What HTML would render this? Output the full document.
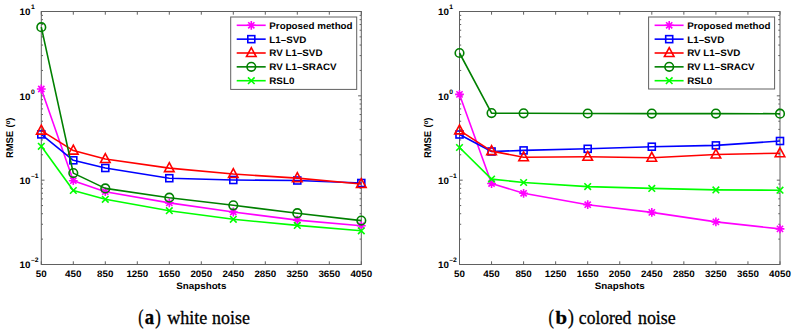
<!DOCTYPE html>
<html><head><meta charset="utf-8"><style>
html,body{margin:0;padding:0;background:#fff;}
body{width:797px;height:335px;overflow:hidden;}
svg{display:block;}
</style></head><body>
<svg width="797" height="335" viewBox="0 0 797 335"><rect width="797" height="335" fill="#fff"/><rect x="41.30" y="11.50" width="320.00" height="253.00" fill="none" stroke="#606060" stroke-width="1.0"/><path d="M41.30 264.50v-3.2M41.30 11.50v3.2M73.30 264.50v-3.2M73.30 11.50v3.2M105.30 264.50v-3.2M105.30 11.50v3.2M137.30 264.50v-3.2M137.30 11.50v3.2M169.30 264.50v-3.2M169.30 11.50v3.2M201.30 264.50v-3.2M201.30 11.50v3.2M233.30 264.50v-3.2M233.30 11.50v3.2M265.30 264.50v-3.2M265.30 11.50v3.2M297.30 264.50v-3.2M297.30 11.50v3.2M329.30 264.50v-3.2M329.30 11.50v3.2M361.30 264.50v-3.2M361.30 11.50v3.2M41.30 11.50h3.2M361.30 11.50h-3.2M41.30 95.83h3.2M361.30 95.83h-3.2M41.30 180.17h3.2M361.30 180.17h-3.2M41.30 264.50h3.2M361.30 264.50h-3.2M41.30 70.45h1.7M361.30 70.45h-1.7M41.30 55.60h1.7M361.30 55.60h-1.7M41.30 45.06h1.7M361.30 45.06h-1.7M41.30 36.89h1.7M361.30 36.89h-1.7M41.30 30.21h1.7M361.30 30.21h-1.7M41.30 24.56h1.7M361.30 24.56h-1.7M41.30 19.67h1.7M361.30 19.67h-1.7M41.30 15.36h1.7M361.30 15.36h-1.7M41.30 154.78h1.7M361.30 154.78h-1.7M41.30 139.93h1.7M361.30 139.93h-1.7M41.30 129.39h1.7M361.30 129.39h-1.7M41.30 121.22h1.7M361.30 121.22h-1.7M41.30 114.54h1.7M361.30 114.54h-1.7M41.30 108.90h1.7M361.30 108.90h-1.7M41.30 104.01h1.7M361.30 104.01h-1.7M41.30 99.69h1.7M361.30 99.69h-1.7M41.30 239.11h1.7M361.30 239.11h-1.7M41.30 224.26h1.7M361.30 224.26h-1.7M41.30 213.73h1.7M361.30 213.73h-1.7M41.30 205.55h1.7M361.30 205.55h-1.7M41.30 198.88h1.7M361.30 198.88h-1.7M41.30 193.23h1.7M361.30 193.23h-1.7M41.30 188.34h1.7M361.30 188.34h-1.7M41.30 184.03h1.7M361.30 184.03h-1.7" stroke="#606060" stroke-width="1.0" fill="none"/><polyline points="41.30,89.00 73.30,180.70 105.30,191.70 169.30,202.90 233.30,212.00 297.30,220.10 361.30,225.70" fill="none" stroke="#ff00ff" stroke-width="1.6" stroke-linejoin="round"/><path d="M41.30 84.60V93.40M36.90 89.00H45.70M38.20 85.90L44.40 92.10M38.20 92.10L44.40 85.90" stroke="#ff00ff" stroke-width="1.6" fill="none"/><path d="M73.30 176.30V185.10M68.90 180.70H77.70M70.20 177.60L76.40 183.80M70.20 183.80L76.40 177.60" stroke="#ff00ff" stroke-width="1.6" fill="none"/><path d="M105.30 187.30V196.10M100.90 191.70H109.70M102.20 188.60L108.40 194.80M102.20 194.80L108.40 188.60" stroke="#ff00ff" stroke-width="1.6" fill="none"/><path d="M169.30 198.50V207.30M164.90 202.90H173.70M166.20 199.80L172.40 206.00M166.20 206.00L172.40 199.80" stroke="#ff00ff" stroke-width="1.6" fill="none"/><path d="M233.30 207.60V216.40M228.90 212.00H237.70M230.20 208.90L236.40 215.10M230.20 215.10L236.40 208.90" stroke="#ff00ff" stroke-width="1.6" fill="none"/><path d="M297.30 215.70V224.50M292.90 220.10H301.70M294.20 217.00L300.40 223.20M294.20 223.20L300.40 217.00" stroke="#ff00ff" stroke-width="1.6" fill="none"/><path d="M361.30 221.30V230.10M356.90 225.70H365.70M358.20 222.60L364.40 228.80M358.20 228.80L364.40 222.60" stroke="#ff00ff" stroke-width="1.6" fill="none"/><polyline points="41.30,134.40 73.30,160.30 105.30,168.00 169.30,178.20 233.30,180.00 297.30,180.50 361.30,183.00" fill="none" stroke="#0000ff" stroke-width="1.6" stroke-linejoin="round"/><rect x="37.80" y="130.90" width="7.00" height="7.00" stroke="#0000ff" stroke-width="1.6" fill="none"/><rect x="69.80" y="156.80" width="7.00" height="7.00" stroke="#0000ff" stroke-width="1.6" fill="none"/><rect x="101.80" y="164.50" width="7.00" height="7.00" stroke="#0000ff" stroke-width="1.6" fill="none"/><rect x="165.80" y="174.70" width="7.00" height="7.00" stroke="#0000ff" stroke-width="1.6" fill="none"/><rect x="229.80" y="176.50" width="7.00" height="7.00" stroke="#0000ff" stroke-width="1.6" fill="none"/><rect x="293.80" y="177.00" width="7.00" height="7.00" stroke="#0000ff" stroke-width="1.6" fill="none"/><rect x="357.80" y="179.50" width="7.00" height="7.00" stroke="#0000ff" stroke-width="1.6" fill="none"/><polyline points="41.30,130.60 73.30,150.60 105.30,159.00 169.30,168.10 233.30,174.00 297.30,178.10 361.30,184.00" fill="none" stroke="#ff0000" stroke-width="1.6" stroke-linejoin="round"/><path d="M41.30 125.20L46.10 134.10L36.50 134.10Z" stroke="#ff0000" stroke-width="1.6" fill="none" stroke-linejoin="miter"/><path d="M73.30 145.20L78.10 154.10L68.50 154.10Z" stroke="#ff0000" stroke-width="1.6" fill="none" stroke-linejoin="miter"/><path d="M105.30 153.60L110.10 162.50L100.50 162.50Z" stroke="#ff0000" stroke-width="1.6" fill="none" stroke-linejoin="miter"/><path d="M169.30 162.70L174.10 171.60L164.50 171.60Z" stroke="#ff0000" stroke-width="1.6" fill="none" stroke-linejoin="miter"/><path d="M233.30 168.60L238.10 177.50L228.50 177.50Z" stroke="#ff0000" stroke-width="1.6" fill="none" stroke-linejoin="miter"/><path d="M297.30 172.70L302.10 181.60L292.50 181.60Z" stroke="#ff0000" stroke-width="1.6" fill="none" stroke-linejoin="miter"/><path d="M361.30 178.60L366.10 187.50L356.50 187.50Z" stroke="#ff0000" stroke-width="1.6" fill="none" stroke-linejoin="miter"/><polyline points="41.30,27.20 73.30,173.10 105.30,188.40 169.30,197.70 233.30,205.30 297.30,213.20 361.30,220.60" fill="none" stroke="#008000" stroke-width="1.6" stroke-linejoin="round"/><circle cx="41.30" cy="27.20" r="4.3" stroke="#008000" stroke-width="1.6" fill="none"/><circle cx="73.30" cy="173.10" r="4.3" stroke="#008000" stroke-width="1.6" fill="none"/><circle cx="105.30" cy="188.40" r="4.3" stroke="#008000" stroke-width="1.6" fill="none"/><circle cx="169.30" cy="197.70" r="4.3" stroke="#008000" stroke-width="1.6" fill="none"/><circle cx="233.30" cy="205.30" r="4.3" stroke="#008000" stroke-width="1.6" fill="none"/><circle cx="297.30" cy="213.20" r="4.3" stroke="#008000" stroke-width="1.6" fill="none"/><circle cx="361.30" cy="220.60" r="4.3" stroke="#008000" stroke-width="1.6" fill="none"/><polyline points="41.30,146.30 73.30,190.50 105.30,199.30 169.30,210.70 233.30,219.30 297.30,225.40 361.30,230.80" fill="none" stroke="#00ff00" stroke-width="1.6" stroke-linejoin="round"/><path d="M38.00 143.00L44.60 149.60M38.00 149.60L44.60 143.00" stroke="#00ff00" stroke-width="1.6" fill="none"/><path d="M70.00 187.20L76.60 193.80M70.00 193.80L76.60 187.20" stroke="#00ff00" stroke-width="1.6" fill="none"/><path d="M102.00 196.00L108.60 202.60M102.00 202.60L108.60 196.00" stroke="#00ff00" stroke-width="1.6" fill="none"/><path d="M166.00 207.40L172.60 214.00M166.00 214.00L172.60 207.40" stroke="#00ff00" stroke-width="1.6" fill="none"/><path d="M230.00 216.00L236.60 222.60M230.00 222.60L236.60 216.00" stroke="#00ff00" stroke-width="1.6" fill="none"/><path d="M294.00 222.10L300.60 228.70M294.00 228.70L300.60 222.10" stroke="#00ff00" stroke-width="1.6" fill="none"/><path d="M358.00 227.50L364.60 234.10M358.00 234.10L364.60 227.50" stroke="#00ff00" stroke-width="1.6" fill="none"/><g font-family='"Liberation Sans", sans-serif' font-weight="bold" font-size="9.4" fill="#000" text-rendering="geometricPrecision"><text transform="translate(41.30,277.00) scale(1.045,1)" text-anchor="middle">50</text><text transform="translate(73.30,277.00) scale(1.045,1)" text-anchor="middle">450</text><text transform="translate(105.30,277.00) scale(1.045,1)" text-anchor="middle">850</text><text transform="translate(137.30,277.00) scale(1.045,1)" text-anchor="middle">1250</text><text transform="translate(169.30,277.00) scale(1.045,1)" text-anchor="middle">1650</text><text transform="translate(201.30,277.00) scale(1.045,1)" text-anchor="middle">2050</text><text transform="translate(233.30,277.00) scale(1.045,1)" text-anchor="middle">2450</text><text transform="translate(265.30,277.00) scale(1.045,1)" text-anchor="middle">2850</text><text transform="translate(297.30,277.00) scale(1.045,1)" text-anchor="middle">3250</text><text transform="translate(329.30,277.00) scale(1.045,1)" text-anchor="middle">3650</text><text transform="translate(361.30,277.00) scale(1.045,1)" text-anchor="middle">4050</text><text transform="translate(19.60,15.25) scale(1.045,1)">10<tspan font-size="6.5" dy="-5.9" dx="0.4">1</tspan></text><text transform="translate(19.60,99.58) scale(1.045,1)">10<tspan font-size="6.5" dy="-5.9" dx="0.4">0</tspan></text><text transform="translate(19.60,183.92) scale(1.045,1)">10<tspan font-size="6.5" dy="-5.9" dx="0.4">–1</tspan></text><text transform="translate(19.60,268.25) scale(1.045,1)">10<tspan font-size="6.5" dy="-5.9" dx="0.4">–2</tspan></text><text transform="translate(201.30,288.60) scale(1.045,1)" text-anchor="middle">Snapshots</text><text transform="translate(13.00,137.80) scale(1.045,1) rotate(-90)" text-anchor="middle">RMSE <tspan dx="0.8">(</tspan><tspan font-size="6.5" dy="-3.2" dx="0">o</tspan><tspan dy="3.2" dx="-0.3">)</tspan></text></g><rect x="230.70" y="17.00" width="126.00" height="72.40" fill="#fff" stroke="#606060" stroke-width="1.0"/><path d="M236.70 25.30H265.70" stroke="#ff00ff" stroke-width="1.6"/><path d="M251.30 20.90V29.70M246.90 25.30H255.70M248.20 22.20L254.40 28.40M248.20 28.40L254.40 22.20" stroke="#ff00ff" stroke-width="1.6" fill="none"/><path d="M236.70 39.15H265.70" stroke="#0000ff" stroke-width="1.6"/><rect x="247.80" y="35.65" width="7.00" height="7.00" stroke="#0000ff" stroke-width="1.6" fill="none"/><path d="M236.70 53.00H265.70" stroke="#ff0000" stroke-width="1.6"/><path d="M251.30 47.60L256.10 56.50L246.50 56.50Z" stroke="#ff0000" stroke-width="1.6" fill="none" stroke-linejoin="miter"/><path d="M236.70 66.85H265.70" stroke="#008000" stroke-width="1.6"/><circle cx="251.30" cy="66.85" r="4.3" stroke="#008000" stroke-width="1.6" fill="none"/><path d="M236.70 80.70H265.70" stroke="#00ff00" stroke-width="1.6"/><path d="M248.00 77.40L254.60 84.00M248.00 84.00L254.60 77.40" stroke="#00ff00" stroke-width="1.6" fill="none"/><g font-family='"Liberation Sans", sans-serif' font-weight="bold" font-size="9.4" fill="#000" text-rendering="geometricPrecision"><text transform="translate(269.30,29.00) scale(1.045,1)">Proposed method</text><text transform="translate(269.30,43.00) scale(1.045,1)">L1–SVD</text><text transform="translate(269.30,56.00) scale(1.045,1)">RV L1–SVD</text><text transform="translate(269.30,70.00) scale(1.045,1)">RV L1–SRACV</text><text transform="translate(269.30,84.00) scale(1.045,1)">RSL0</text></g><g font-family='"Liberation Serif", serif' font-size="18" fill="#000" stroke="#000" stroke-width="0.3"><text transform="translate(138.15,323.84) scale(0.8696,1.1350)">(</text><text transform="translate(144.73,323.93) scale(1.0370,1.1163)" font-weight="bold">a</text><text transform="translate(155.29,323.84) scale(0.9348,1.1350)">)</text><text transform="translate(167.15,324.20) scale(1.0051,1.0000)">white</text><text transform="translate(212.05,324.20) scale(0.9973,1.0000)">noise</text></g><rect x="459.50" y="11.50" width="320.50" height="253.00" fill="none" stroke="#606060" stroke-width="1.0"/><path d="M459.50 264.50v-3.2M459.50 11.50v3.2M491.55 264.50v-3.2M491.55 11.50v3.2M523.60 264.50v-3.2M523.60 11.50v3.2M555.65 264.50v-3.2M555.65 11.50v3.2M587.70 264.50v-3.2M587.70 11.50v3.2M619.75 264.50v-3.2M619.75 11.50v3.2M651.80 264.50v-3.2M651.80 11.50v3.2M683.85 264.50v-3.2M683.85 11.50v3.2M715.90 264.50v-3.2M715.90 11.50v3.2M747.95 264.50v-3.2M747.95 11.50v3.2M780.00 264.50v-3.2M780.00 11.50v3.2M459.50 11.50h3.2M780.00 11.50h-3.2M459.50 95.83h3.2M780.00 95.83h-3.2M459.50 180.17h3.2M780.00 180.17h-3.2M459.50 264.50h3.2M780.00 264.50h-3.2M459.50 70.45h1.7M780.00 70.45h-1.7M459.50 55.60h1.7M780.00 55.60h-1.7M459.50 45.06h1.7M780.00 45.06h-1.7M459.50 36.89h1.7M780.00 36.89h-1.7M459.50 30.21h1.7M780.00 30.21h-1.7M459.50 24.56h1.7M780.00 24.56h-1.7M459.50 19.67h1.7M780.00 19.67h-1.7M459.50 15.36h1.7M780.00 15.36h-1.7M459.50 154.78h1.7M780.00 154.78h-1.7M459.50 139.93h1.7M780.00 139.93h-1.7M459.50 129.39h1.7M780.00 129.39h-1.7M459.50 121.22h1.7M780.00 121.22h-1.7M459.50 114.54h1.7M780.00 114.54h-1.7M459.50 108.90h1.7M780.00 108.90h-1.7M459.50 104.01h1.7M780.00 104.01h-1.7M459.50 99.69h1.7M780.00 99.69h-1.7M459.50 239.11h1.7M780.00 239.11h-1.7M459.50 224.26h1.7M780.00 224.26h-1.7M459.50 213.73h1.7M780.00 213.73h-1.7M459.50 205.55h1.7M780.00 205.55h-1.7M459.50 198.88h1.7M780.00 198.88h-1.7M459.50 193.23h1.7M780.00 193.23h-1.7M459.50 188.34h1.7M780.00 188.34h-1.7M459.50 184.03h1.7M780.00 184.03h-1.7" stroke="#606060" stroke-width="1.0" fill="none"/><polyline points="459.50,94.40 491.55,183.50 523.60,193.30 587.70,204.70 651.80,212.40 715.90,221.90 780.00,228.90" fill="none" stroke="#ff00ff" stroke-width="1.6" stroke-linejoin="round"/><path d="M459.50 90.00V98.80M455.10 94.40H463.90M456.40 91.30L462.60 97.50M456.40 97.50L462.60 91.30" stroke="#ff00ff" stroke-width="1.6" fill="none"/><path d="M491.55 179.10V187.90M487.15 183.50H495.95M488.45 180.40L494.65 186.60M488.45 186.60L494.65 180.40" stroke="#ff00ff" stroke-width="1.6" fill="none"/><path d="M523.60 188.90V197.70M519.20 193.30H528.00M520.50 190.20L526.70 196.40M520.50 196.40L526.70 190.20" stroke="#ff00ff" stroke-width="1.6" fill="none"/><path d="M587.70 200.30V209.10M583.30 204.70H592.10M584.60 201.60L590.80 207.80M584.60 207.80L590.80 201.60" stroke="#ff00ff" stroke-width="1.6" fill="none"/><path d="M651.80 208.00V216.80M647.40 212.40H656.20M648.70 209.30L654.90 215.50M648.70 215.50L654.90 209.30" stroke="#ff00ff" stroke-width="1.6" fill="none"/><path d="M715.90 217.50V226.30M711.50 221.90H720.30M712.80 218.80L719.00 225.00M712.80 225.00L719.00 218.80" stroke="#ff00ff" stroke-width="1.6" fill="none"/><path d="M780.00 224.50V233.30M775.60 228.90H784.40M776.90 225.80L783.10 232.00M776.90 232.00L783.10 225.80" stroke="#ff00ff" stroke-width="1.6" fill="none"/><polyline points="459.50,134.50 491.55,151.50 523.60,150.40 587.70,148.80 651.80,146.70 715.90,145.40 780.00,141.00" fill="none" stroke="#0000ff" stroke-width="1.6" stroke-linejoin="round"/><rect x="456.00" y="131.00" width="7.00" height="7.00" stroke="#0000ff" stroke-width="1.6" fill="none"/><rect x="488.05" y="148.00" width="7.00" height="7.00" stroke="#0000ff" stroke-width="1.6" fill="none"/><rect x="520.10" y="146.90" width="7.00" height="7.00" stroke="#0000ff" stroke-width="1.6" fill="none"/><rect x="584.20" y="145.30" width="7.00" height="7.00" stroke="#0000ff" stroke-width="1.6" fill="none"/><rect x="648.30" y="143.20" width="7.00" height="7.00" stroke="#0000ff" stroke-width="1.6" fill="none"/><rect x="712.40" y="141.90" width="7.00" height="7.00" stroke="#0000ff" stroke-width="1.6" fill="none"/><rect x="776.50" y="137.50" width="7.00" height="7.00" stroke="#0000ff" stroke-width="1.6" fill="none"/><polyline points="459.50,130.40 491.55,151.10 523.60,157.30 587.70,156.80 651.80,157.70 715.90,154.50 780.00,153.20" fill="none" stroke="#ff0000" stroke-width="1.6" stroke-linejoin="round"/><path d="M459.50 125.00L464.30 133.90L454.70 133.90Z" stroke="#ff0000" stroke-width="1.6" fill="none" stroke-linejoin="miter"/><path d="M491.55 145.70L496.35 154.60L486.75 154.60Z" stroke="#ff0000" stroke-width="1.6" fill="none" stroke-linejoin="miter"/><path d="M523.60 151.90L528.40 160.80L518.80 160.80Z" stroke="#ff0000" stroke-width="1.6" fill="none" stroke-linejoin="miter"/><path d="M587.70 151.40L592.50 160.30L582.90 160.30Z" stroke="#ff0000" stroke-width="1.6" fill="none" stroke-linejoin="miter"/><path d="M651.80 152.30L656.60 161.20L647.00 161.20Z" stroke="#ff0000" stroke-width="1.6" fill="none" stroke-linejoin="miter"/><path d="M715.90 149.10L720.70 158.00L711.10 158.00Z" stroke="#ff0000" stroke-width="1.6" fill="none" stroke-linejoin="miter"/><path d="M780.00 147.80L784.80 156.70L775.20 156.70Z" stroke="#ff0000" stroke-width="1.6" fill="none" stroke-linejoin="miter"/><polyline points="459.50,53.00 491.55,113.10 523.60,113.30 587.70,113.50 651.80,113.60 715.90,113.60 780.00,113.70" fill="none" stroke="#008000" stroke-width="1.6" stroke-linejoin="round"/><circle cx="459.50" cy="53.00" r="4.3" stroke="#008000" stroke-width="1.6" fill="none"/><circle cx="491.55" cy="113.10" r="4.3" stroke="#008000" stroke-width="1.6" fill="none"/><circle cx="523.60" cy="113.30" r="4.3" stroke="#008000" stroke-width="1.6" fill="none"/><circle cx="587.70" cy="113.50" r="4.3" stroke="#008000" stroke-width="1.6" fill="none"/><circle cx="651.80" cy="113.60" r="4.3" stroke="#008000" stroke-width="1.6" fill="none"/><circle cx="715.90" cy="113.60" r="4.3" stroke="#008000" stroke-width="1.6" fill="none"/><circle cx="780.00" cy="113.70" r="4.3" stroke="#008000" stroke-width="1.6" fill="none"/><polyline points="459.50,147.50 491.55,179.10 523.60,182.50 587.70,186.60 651.80,188.40 715.90,189.90 780.00,190.20" fill="none" stroke="#00ff00" stroke-width="1.6" stroke-linejoin="round"/><path d="M456.20 144.20L462.80 150.80M456.20 150.80L462.80 144.20" stroke="#00ff00" stroke-width="1.6" fill="none"/><path d="M488.25 175.80L494.85 182.40M488.25 182.40L494.85 175.80" stroke="#00ff00" stroke-width="1.6" fill="none"/><path d="M520.30 179.20L526.90 185.80M520.30 185.80L526.90 179.20" stroke="#00ff00" stroke-width="1.6" fill="none"/><path d="M584.40 183.30L591.00 189.90M584.40 189.90L591.00 183.30" stroke="#00ff00" stroke-width="1.6" fill="none"/><path d="M648.50 185.10L655.10 191.70M648.50 191.70L655.10 185.10" stroke="#00ff00" stroke-width="1.6" fill="none"/><path d="M712.60 186.60L719.20 193.20M712.60 193.20L719.20 186.60" stroke="#00ff00" stroke-width="1.6" fill="none"/><path d="M776.70 186.90L783.30 193.50M776.70 193.50L783.30 186.90" stroke="#00ff00" stroke-width="1.6" fill="none"/><g font-family='"Liberation Sans", sans-serif' font-weight="bold" font-size="9.4" fill="#000" text-rendering="geometricPrecision"><text transform="translate(459.50,277.00) scale(1.045,1)" text-anchor="middle">50</text><text transform="translate(491.55,277.00) scale(1.045,1)" text-anchor="middle">450</text><text transform="translate(523.60,277.00) scale(1.045,1)" text-anchor="middle">850</text><text transform="translate(555.65,277.00) scale(1.045,1)" text-anchor="middle">1250</text><text transform="translate(587.70,277.00) scale(1.045,1)" text-anchor="middle">1650</text><text transform="translate(619.75,277.00) scale(1.045,1)" text-anchor="middle">2050</text><text transform="translate(651.80,277.00) scale(1.045,1)" text-anchor="middle">2450</text><text transform="translate(683.85,277.00) scale(1.045,1)" text-anchor="middle">2850</text><text transform="translate(715.90,277.00) scale(1.045,1)" text-anchor="middle">3250</text><text transform="translate(747.95,277.00) scale(1.045,1)" text-anchor="middle">3650</text><text transform="translate(780.00,277.00) scale(1.045,1)" text-anchor="middle">4050</text><text transform="translate(438.00,15.25) scale(1.045,1)">10<tspan font-size="6.5" dy="-5.9" dx="0.4">1</tspan></text><text transform="translate(438.00,99.58) scale(1.045,1)">10<tspan font-size="6.5" dy="-5.9" dx="0.4">0</tspan></text><text transform="translate(438.00,183.92) scale(1.045,1)">10<tspan font-size="6.5" dy="-5.9" dx="0.4">–1</tspan></text><text transform="translate(438.00,268.25) scale(1.045,1)">10<tspan font-size="6.5" dy="-5.9" dx="0.4">–2</tspan></text><text transform="translate(619.75,288.60) scale(1.045,1)" text-anchor="middle">Snapshots</text><text transform="translate(431.20,137.80) scale(1.045,1) rotate(-90)" text-anchor="middle">RMSE <tspan dx="0.8">(</tspan><tspan font-size="6.5" dy="-3.2" dx="0">o</tspan><tspan dy="3.2" dx="-0.3">)</tspan></text></g><rect x="648.60" y="17.00" width="126.00" height="72.00" fill="#fff" stroke="#606060" stroke-width="1.0"/><path d="M654.60 25.30H683.60" stroke="#ff00ff" stroke-width="1.6"/><path d="M669.20 20.90V29.70M664.80 25.30H673.60M666.10 22.20L672.30 28.40M666.10 28.40L672.30 22.20" stroke="#ff00ff" stroke-width="1.6" fill="none"/><path d="M654.60 39.15H683.60" stroke="#0000ff" stroke-width="1.6"/><rect x="665.70" y="35.65" width="7.00" height="7.00" stroke="#0000ff" stroke-width="1.6" fill="none"/><path d="M654.60 53.00H683.60" stroke="#ff0000" stroke-width="1.6"/><path d="M669.20 47.60L674.00 56.50L664.40 56.50Z" stroke="#ff0000" stroke-width="1.6" fill="none" stroke-linejoin="miter"/><path d="M654.60 66.85H683.60" stroke="#008000" stroke-width="1.6"/><circle cx="669.20" cy="66.85" r="4.3" stroke="#008000" stroke-width="1.6" fill="none"/><path d="M654.60 80.70H683.60" stroke="#00ff00" stroke-width="1.6"/><path d="M665.90 77.40L672.50 84.00M665.90 84.00L672.50 77.40" stroke="#00ff00" stroke-width="1.6" fill="none"/><g font-family='"Liberation Sans", sans-serif' font-weight="bold" font-size="9.4" fill="#000" text-rendering="geometricPrecision"><text transform="translate(687.20,29.00) scale(1.045,1)">Proposed method</text><text transform="translate(687.20,43.00) scale(1.045,1)">L1–SVD</text><text transform="translate(687.20,56.00) scale(1.045,1)">RV L1–SVD</text><text transform="translate(687.20,70.00) scale(1.045,1)">RV L1–SRACV</text><text transform="translate(687.20,84.00) scale(1.045,1)">RSL0</text></g><g font-family='"Liberation Serif", serif' font-size="18" fill="#000" stroke="#000" stroke-width="0.3"><text transform="translate(548.54,323.87) scale(0.8913,1.1534)">(</text><text transform="translate(555.52,323.94) scale(1.1538,1.0709)" font-weight="bold">b</text><text transform="translate(567.96,323.87) scale(0.9783,1.1534)">)</text><text transform="translate(578.87,324.20) scale(0.9736,1.0000)">colored</text><text transform="translate(637.95,324.20) scale(0.9946,1.0000)">noise</text></g></svg>
</body></html>
